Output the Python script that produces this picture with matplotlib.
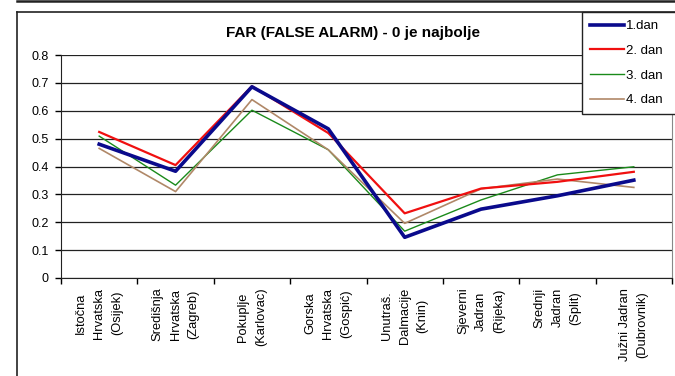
import matplotlib
matplotlib.use("Agg")
import matplotlib.pyplot as plt
from matplotlib.lines import Line2D
import numpy as np

plt.rcParams["font.family"] = ["Liberation Sans", "DejaVu Sans"]

# regije i vrijednosti FAR po danima
regije = [
    "Istočna\nHrvatska\n(Osijek)",
    "Središnja\nHrvatska\n(Zagreb)",
    "Pokuplje\n(Karlovac)",
    "Gorska\nHrvatska\n(Gospić)",
    "Unutraš.\nDalmacije\n(Knin)",
    "Sjeverni\nJadran\n(Rijeka)",
    "Srednji\nJadran\n(Split)",
    "Južni Jadran\n(Dubrovnik)",
]
dan1 = [0.48, 0.383, 0.686, 0.535, 0.146, 0.247, 0.295, 0.351]
dan2 = [0.524, 0.405, 0.688, 0.52, 0.232, 0.321, 0.345, 0.381]
dan3 = [0.509, 0.333, 0.602, 0.46, 0.168, 0.28, 0.37, 0.399]
dan4 = [0.465, 0.31, 0.64, 0.46, 0.196, 0.32, 0.355, 0.325]
oznake = ["1.dan", "2. dan", "3. dan", "4. dan"]
y_ticks = [0, 0.1, 0.2, 0.3, 0.4, 0.5, 0.6, 0.7, 0.8]

W, H = 675, 376
fig = plt.figure(figsize=(W / 100, H / 100), dpi=100, facecolor="white")


def fx(px):
    return px / W


def fy(py):
    return 1 - py / H


# okvir: donji rub prethodnog grafa i okvir ovog grafa
fig.add_artist(Line2D([fx(17), fx(W)], [fy(1), fy(1)], color="#222222", lw=1.8))
fig.add_artist(Line2D([fx(17), fx(W)], [fy(12), fy(12)], color="#222222", lw=1.2))
fig.add_artist(Line2D([fx(17), fx(17)], [fy(12), fy(H)], color="#222222", lw=1.2))

ax = fig.add_axes([fx(61), fy(278), fx(672) - fx(61), fy(55) - fy(278)])
x = np.arange(len(regije)) + 0.5

ax.plot(x, dan1, color="#0a0a8c", lw=2.6, label=oznake[0], zorder=5)
ax.plot(x, dan2, color="#f01010", lw=1.6, label=oznake[1], zorder=4)
ax.plot(x, dan3, color="#1a8a1a", lw=1.0, label=oznake[2], zorder=3)
ax.plot(x, dan4, color="#b08868", lw=1.2, label=oznake[3], zorder=3)

ax.set_xlim(0, len(regije))
ax.set_ylim(0, 0.8)
ax.set_yticks(y_ticks)
ax.set_yticklabels([f"{v:g}" for v in y_ticks], fontsize=9)
ax.grid(axis="y", color="#222222", lw=0.9)
ax.set_axisbelow(True)

# crtice izmedju kategorija, nazivi u sredini
ax.set_xticks(np.arange(len(regije) + 1))
ax.set_xticklabels([])
ax.set_xticks(x, minor=True)
ax.set_xticklabels(regije, minor=True, rotation=90, fontsize=9.3,
                   va="top", ha="center", linespacing=1.65)
ax.tick_params(axis="x", which="major", length=4, direction="out", width=1)
ax.tick_params(axis="x", which="minor", length=0, pad=7)
ax.tick_params(axis="y", length=4, direction="out", width=1, pad=5)

ax.spines["top"].set_visible(False)
ax.spines["right"].set_color("#888888")
ax.spines["right"].set_linewidth(0.8)
ax.spines["left"].set_color("#222222")
ax.spines["bottom"].set_color("#222222")

fig.text(fx(353), fy(33), "FAR (FALSE ALARM) - 0 je najbolje", ha="center",
         va="center", fontsize=11, fontweight="bold")

# legenda prelazi desni rub slike
leg = fig.legend(loc="upper left",
                 bbox_to_anchor=(fx(582), fy(115), fx(700) - fx(582), fy(12) - fy(115)),
                 mode="expand", fontsize=9.5, frameon=True, fancybox=False,
                 framealpha=1, edgecolor="#222222", handlelength=2.6,
                 handletextpad=0.1, labelspacing=0.95, borderpad=0.6,
                 borderaxespad=0)
leg.get_frame().set_linewidth(1.0)

fig.savefig("out.png", dpi=100, facecolor="white")
